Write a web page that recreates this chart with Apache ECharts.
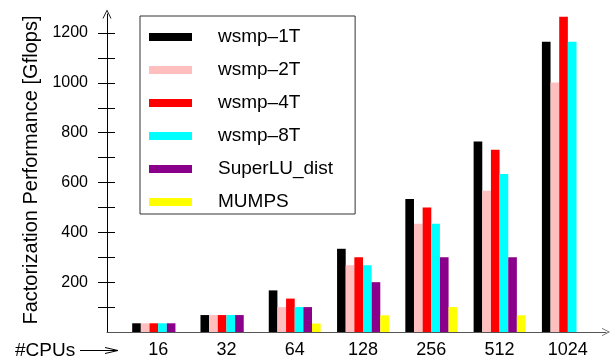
<!DOCTYPE html>
<html>
<head>
<meta charset="utf-8">
<script src="https://cdn.jsdelivr.net/npm/echarts@6/dist/echarts.min.js"></script>
<style>
html, body { margin: 0; padding: 0; background: #fff; }
#chart { width: 612px; height: 360px; }
</style>
</head>
<body>
<div id="chart"></div>
<script>
// data (Gflops)
var cpus = ['16', '32', '64', '128', '256', '512', '1024'];
var wsmp1T = [35, 68, 167, 334, 534, 765, 1165];
var wsmp2T = [35, 68, 100, 268, 434, 567, 1001];
var wsmp4T = [35, 68, 134, 300, 500, 731, 1265];
var wsmp8T = [35, 68, 100, 268, 434, 634, 1165];
var superLU = [35, 68, 100, 200, 300, 300, null];
var mumps = [null, null, 34, 67, 100, 67, null];
var yTickLabels = [200, 400, 600, 800, 1000, 1200];

var FONT = 'Liberation Sans, Arial, sans-serif';
// open chevron used as arrow head on the axes
var chevron = 'path://M0,10 L5,0 L10,10 L9,10 L5,2 L1,10 Z';

function bar(name, data, color) {
    return {
        type: 'bar', name: name, data: data,
        xAxisIndex: 0, yAxisIndex: 0,
        barGap: '0%', barCategoryGap: '24%',
        clip: false,
        itemStyle: { color: color },
        emphasis: { disabled: true }
    };
}

var chart = echarts.init(document.getElementById('chart'));
chart.setOption({
    animation: false,
    textStyle: { fontFamily: FONT },
    grid: [
        { left: 124, right: 10, top: 33, bottom: 28 },   // bars
        { left: 107, right: 6, top: 14, bottom: 28 },    // axis lines with arrows
        { left: 115, right: 10, top: 33, bottom: 52.9 }  // y ticks 100..1200
    ],
    xAxis: [
        {
            gridIndex: 0, type: 'category', data: cpus,
            axisLine: { show: false }, axisTick: { show: false },
            axisLabel: { color: '#000', fontSize: 18, margin: 9, fontFamily: FONT }
        },
        {
            gridIndex: 1, type: 'value', min: 0, max: 1,
            axisLine: { show: true, onZero: false, symbol: ['none', chevron], symbolSize: [8, 13],
                lineStyle: { color: '#555', width: 1 } },
            axisTick: { show: false }, axisLabel: { show: false }, splitLine: { show: false }
        },
        { gridIndex: 2, type: 'value', show: false }
    ],
    yAxis: [
        { gridIndex: 0, type: 'value', min: 0, max: 1200, show: false },
        {
            gridIndex: 1, type: 'value', min: 0, max: 1,
            axisLine: { show: true, onZero: false, symbol: ['none', chevron], symbolSize: [9, 13],
                lineStyle: { color: '#000', width: 1 } },
            axisTick: { show: false }, axisLabel: { show: false }, splitLine: { show: false }
        },
        {
            gridIndex: 2, type: 'value', min: 100, max: 1200, interval: 100,
            axisLine: { show: false },
            axisTick: { show: true, length: 17, lineStyle: { color: '#000' } },
            axisLabel: {
                color: '#000', fontSize: 16, margin: 27, fontFamily: FONT,
                formatter: function (v) { return yTickLabels.indexOf(v) >= 0 ? String(v) : ''; }
            },
            splitLine: { show: false },
            name: 'Factorization Performance [Gflops]',
            nameLocation: 'middle', nameGap: 72,
            nameTextStyle: { color: '#000', fontSize: 20, fontFamily: FONT }
        }
    ],
    legend: {
        orient: 'vertical', left: 140, top: 16,
        itemWidth: 43, itemHeight: 8, itemGap: 13,
        padding: [11, 22, 2, 9],
        borderColor: '#333', borderWidth: 1,
        icon: 'rect',
        textStyle: { color: '#000', fontSize: 19, lineHeight: 20, padding: [0, 0, 0, 21], fontFamily: FONT }
    },
    graphic: [
        { type: 'text', x: 15, y: 351, style: { text: '#CPUs', font: '19px ' + FONT, fill: '#000', verticalAlign: 'middle' } },
        { type: 'line', shape: { x1: 80, y1: 350.5, x2: 118, y2: 350.5 }, style: { stroke: '#000', lineWidth: 1 } },
        { type: 'polyline', shape: { points: [[105, 347.5], [118, 350.5], [105, 353.5]] }, style: { stroke: '#000', fill: null, lineWidth: 1 } }
    ],
    series: [
        bar('wsmp\u20131T', wsmp1T, '#000000'),
        bar('wsmp\u20132T', wsmp2T, '#ffbfbf'),
        bar('wsmp\u20134T', wsmp4T, '#ff0000'),
        bar('wsmp\u20138T', wsmp8T, '#00ffff'),
        bar('SuperLU_dist', superLU, '#8b008b'),
        bar('MUMPS', mumps, '#ffff00')
    ]
});
</script>
</body>
</html>
